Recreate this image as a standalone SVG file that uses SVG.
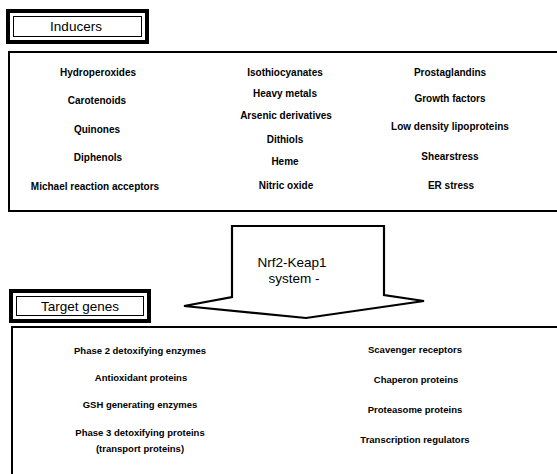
<svg xmlns="http://www.w3.org/2000/svg" width="557" height="474" viewBox="0 0 557 474">
<style>
.frame{fill:none;stroke:#000;stroke-width:2}
.lbo{fill:#fff;stroke:#000;stroke-width:4}
.lbi{fill:none;stroke:#000;stroke-width:1}
.it{font-family:"Liberation Sans",Arial,sans-serif;font-weight:bold;font-size:10px;fill:#000;text-anchor:middle}
.tt{font-family:"Liberation Sans",Arial,sans-serif;font-weight:bold;font-size:9.5px;fill:#000;text-anchor:middle}
.lab{font-family:"Liberation Sans",Arial,sans-serif;font-size:13.5px;fill:#000;text-anchor:middle}
</style>
<rect width="557" height="474" fill="#fff"/>
<g id="inducers-label">
<rect class="lbo" x="8" y="11" width="139" height="31"/>
<rect class="lbi" x="13.5" y="16.5" width="128" height="20"/>
<text class="lab" x="76" y="31">Inducers</text>
</g>
<g id="inducers">
<rect class="frame" x="9" y="52" width="560" height="159"/>
<text class="it" x="98" y="76">Hydroperoxides</text>
<text class="it" x="97" y="104">Carotenoids</text>
<text class="it" x="97" y="133">Quinones</text>
<text class="it" x="98" y="161">Diphenols</text>
<text class="it" x="95" y="190">Michael reaction acceptors</text>
<text class="it" x="285" y="76">Isothiocyanates</text>
<text class="it" x="285" y="97">Heavy metals</text>
<text class="it" x="286" y="119">Arsenic derivatives</text>
<text class="it" x="285" y="143">Dithiols</text>
<text class="it" x="285" y="165">Heme</text>
<text class="it" x="286" y="189">Nitric oxide</text>
<text class="it" x="450" y="76">Prostaglandins</text>
<text class="it" x="450" y="102">Growth factors</text>
<text class="it" x="450" y="130">Low density lipoproteins</text>
<text class="it" x="450" y="160">Shearstress</text>
<text class="it" x="451" y="189">ER stress</text>
</g>
<g id="connectors">
<polygon points="232,226 384,226 384,295 424,301 306,318 184,306 232,297" fill="#fff" stroke="#000" stroke-width="2.2" stroke-linejoin="miter"/>
</g>
<g id="nrf2-keap1">
<text class="lab" x="292" y="267">Nrf2-Keap1</text>
<text class="lab" x="294" y="283">system -</text>
</g>
<g id="target-label">
<rect class="lbo" x="11" y="291" width="138" height="30"/>
<rect class="lbi" x="16.5" y="296.5" width="127" height="19"/>
<text class="lab" x="80" y="311">Target genes</text>
</g>
<g id="targets">
<rect class="frame" x="12" y="327" width="560" height="160"/>
<text class="tt" x="140" y="354">Phase 2 detoxifying enzymes</text>
<text class="tt" x="141" y="381">Antioxidant proteins</text>
<text class="tt" x="140" y="408">GSH generating enzymes</text>
<text class="tt" x="140" y="436">Phase 3 detoxifying proteins</text>
<text class="tt" x="140" y="452">(transport proteins)</text>
<text class="tt" x="415" y="353">Scavenger receptors</text>
<text class="tt" x="416" y="383">Chaperon proteins</text>
<text class="tt" x="415" y="413">Proteasome proteins</text>
<text class="tt" x="415" y="443">Transcription regulators</text>
</g>
</svg>
